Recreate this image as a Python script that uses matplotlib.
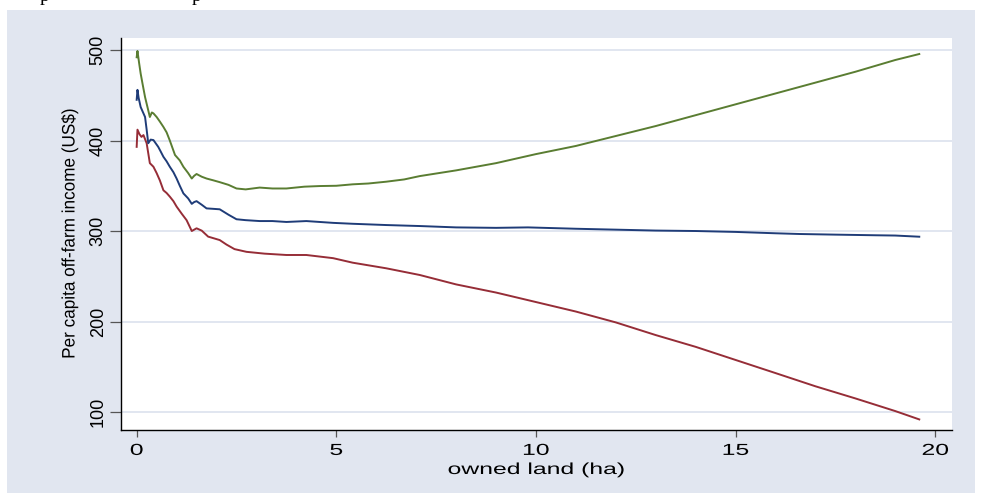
import matplotlib
matplotlib.use("Agg")
import matplotlib.pyplot as plt
from matplotlib.patches import Rectangle
from matplotlib.patheffects import AbstractPathEffect
from matplotlib.transforms import Affine2D

# ---- data -------------------------------------------------------------
land_upper = [0.00, 0.02, 0.06, 0.10, 0.15, 0.21, 0.27, 0.33, 0.38, 0.42, 0.50,
              0.58, 0.67, 0.75, 0.83, 0.96, 1.08, 1.17, 1.29, 1.38, 1.44, 1.50,
              1.63, 1.75, 1.92, 2.08, 2.30, 2.50, 2.73, 3.08, 3.40, 3.75, 4.20,
              4.59, 5.00, 5.41, 5.80, 6.25, 6.70, 7.09, 8.00, 9.00, 10.00,
              11.00, 12.00, 13.00, 14.00, 15.00, 16.00, 17.00, 18.00, 19.00, 19.60]
inc_upper = [492, 499, 486, 474, 462, 448, 437, 426, 431, 430, 426,
             421, 415, 409, 400, 384, 378, 371, 364, 358, 361, 363,
             360, 358, 356, 354, 351, 347, 346, 348, 347, 347, 349,
             349.7, 350, 351.6, 352.5, 354.5, 357, 360.7, 367, 375, 385,
             394, 405, 416, 428, 440, 452, 464, 476, 489, 495.6]

land_mid = [0.00, 0.02, 0.05, 0.10, 0.15, 0.21, 0.25, 0.29, 0.35, 0.42, 0.54,
            0.60, 0.67, 0.75, 0.83, 0.92, 1.00, 1.08, 1.17, 1.29, 1.38, 1.44,
            1.50, 1.63, 1.75, 1.92, 2.08, 2.30, 2.50, 2.73, 3.08, 3.40, 3.75,
            4.25, 4.92, 5.41, 6.25, 7.09, 8.00, 9.00, 9.80, 11.00, 12.00,
            13.00, 14.00, 15.00, 16.00, 16.60, 17.50, 18.50, 19.00, 19.60]
inc_mid = [445, 456, 447, 437, 432, 426, 412, 397, 401, 400.5, 393,
           388, 382, 377, 371, 365, 358, 350, 341.6, 336, 330, 332,
           333, 329, 325, 324.5, 324, 318, 313, 312, 311, 311, 310,
           311, 309, 308, 306.6, 305.5, 304, 303.5, 304, 302.5, 301.5,
           300.5, 300, 299, 297.5, 296.7, 296, 295.3, 295, 293.7]

land_lower = [0.00, 0.02, 0.07, 0.12, 0.17, 0.25, 0.33, 0.42, 0.50, 0.58, 0.67,
              0.75, 0.83, 0.92, 1.00, 1.13, 1.25, 1.38, 1.50, 1.63, 1.79,
              2.08, 2.25, 2.45, 2.75, 3.20, 3.75, 4.25, 4.92, 5.41, 6.25,
              7.09, 8.00, 9.00, 10.00, 11.00, 12.00, 13.00, 14.00, 15.00,
              16.00, 17.00, 18.00, 19.00, 19.60]
inc_lower = [393, 412, 407, 404, 406, 397, 375, 371, 364, 356, 345,
             342, 338, 333, 327, 319, 312, 300, 303, 300.4, 293.8,
             290, 285, 280, 277, 275, 273.5, 273.5, 270, 265, 258.8,
             251.4, 241, 232, 221.5, 211, 199, 185, 172, 157.5,
             143, 128.4, 115, 101, 91.8]

x_ticks = [0, 5, 10, 15, 20]
y_ticks = [100, 200, 300, 400, 500]
x_title = "owned land (ha)"
y_title = "Per capita off-farm income (US$)"

# ---- style ------------------------------------------------------------
BG = "#E1E6F0"
GRID = "#DCE2EE"
C_UPPER = "#5a7d32"
C_MID = "#1f3c78"
C_LOWER = "#962d37"
FONT = ["Liberation Sans", "DejaVu Sans"]


class GlyphStretch(AbstractPathEffect):
    """Scale glyph outlines about their centre, in the text's own frame."""

    def __init__(self, sx=1.0, sy=1.0):
        super().__init__()
        self._sx = sx
        self._sy = sy

    def draw_path(self, renderer, gc, tpath, affine, rgbFace=None):
        ext = tpath.get_extents()
        cx = 0.5 * (ext.x0 + ext.x1)
        cy = 0.5 * (ext.y0 + ext.y1)
        pre = (Affine2D().translate(-cx, -cy)
               .scale(self._sx, self._sy).translate(cx, cy))
        renderer.draw_path(gc, tpath, pre + affine, rgbFace)


W, H = 982, 501
fig = plt.figure(figsize=(W / 100, H / 100), dpi=100)
fig.patch.set_facecolor("white")

# graph region panel
fig.add_artist(Rectangle((7 / W, 8 / H), (975 - 7) / W, (493 - 9.5) / H,
                         transform=fig.transFigure, facecolor=BG,
                         edgecolor="none", zorder=-1))

# descenders of the running text line above the panel
for xp in (45, 197):
    fig.text(xp / W, (H - 1.0) / H, "p", family="Liberation Serif",
             fontsize=14, ha="center", va="baseline", color="black")

ax = fig.add_axes([120.7 / W, 71 / H, (952 - 120.7) / W, (430 - 38) / H])
ax.set_facecolor("white")

ax.plot(land_upper, inc_upper, color=C_UPPER, lw=1.4, zorder=3)
ax.plot(land_mid, inc_mid, color=C_MID, lw=1.4, zorder=4)
ax.plot(land_lower, inc_lower, color=C_LOWER, lw=1.4, zorder=3)

ax.set_xlim(-0.40, 20.42)
ax.set_ylim(80.1, 513.3)
ax.set_xticks(x_ticks)
ax.set_yticks(y_ticks)
ax.set_xticklabels([str(v) for v in x_ticks])
ax.set_yticklabels([str(v) for v in y_ticks])

ax.yaxis.grid(True, color=GRID, lw=1.2, zorder=1)
ax.xaxis.grid(False)
ax.set_axisbelow(True)

for side in ("top", "right"):
    ax.spines[side].set_visible(False)
for side in ("left", "bottom"):
    ax.spines[side].set_color("black")
    ax.spines[side].set_linewidth(1.0)

ax.tick_params(axis="y", length=7.6, width=0.9, color="#555555", pad=2.5)
ax.tick_params(axis="x", length=4.8, width=0.9, color="#555555", pad=4.5)

x_stretch = [GlyphStretch(sx=1.55)]
for lab in ax.get_xticklabels():
    lab.set_fontfamily(FONT)
    lab.set_fontsize(11.5)
    lab.set_path_effects(x_stretch)
for lab in ax.get_yticklabels():
    lab.set_fontfamily(FONT)
    lab.set_fontsize(13)
    lab.set_rotation(90)
    lab.set_va("center")

ax.set_xlabel(x_title, fontfamily=FONT, fontsize=11.5, va="baseline",
              path_effects=[GlyphStretch(sx=1.55)])
ax.xaxis.set_label_coords(0.5, (430 - 474) / 392)
ax.set_ylabel(y_title, fontfamily=FONT, fontsize=13, va="center",
              path_effects=[GlyphStretch(sx=0.95)])
ax.yaxis.set_label_coords((70 - 120.7) / 831.3, 0.5)

fig.savefig("out.png", dpi=100, facecolor=fig.get_facecolor())
